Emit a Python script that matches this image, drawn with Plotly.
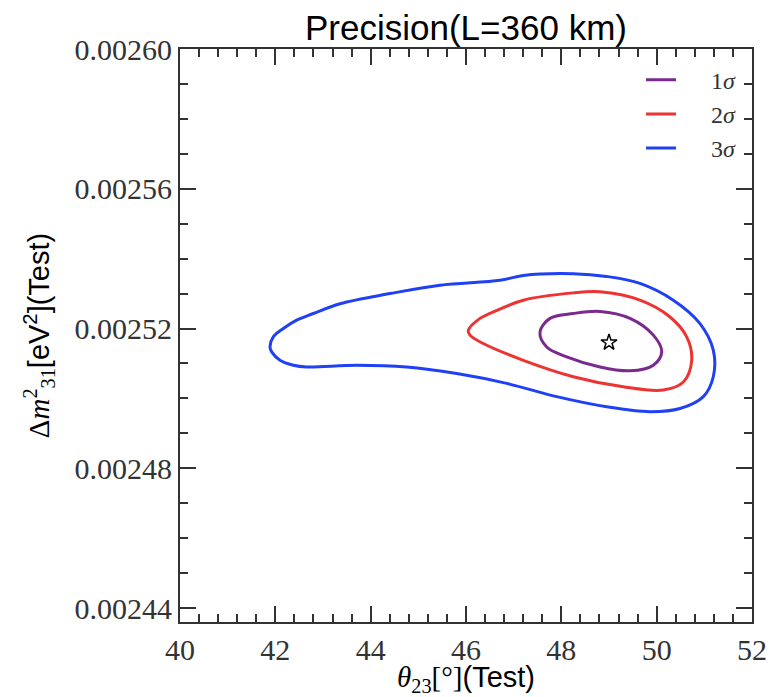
import plotly.graph_objects as go

# ---- data ----
theta_3s = [41.888, 41.957, 42.167, 42.448, 42.797, 43.357, 44.406, 45.455, 46.713, 47.202, 48.251, 48.952,
            49.650, 50.349, 50.909, 51.188, 51.188, 50.979, 50.490, 49.860, 48.952, 47.903,
            46.854, 45.805, 44.756, 43.707, 42.658, 42.378, 42.098, 41.924, 41.888]
dm_3s = [0.0025147, 0.0025176, 0.0025200, 0.0025224, 0.0025243, 0.0025271, 0.0025300, 0.0025324, 0.0025338, 0.0025352,
         0.0025357, 0.0025349, 0.0025329, 0.0025281, 0.0025214, 0.0025138, 0.0025062, 0.0025005,
         0.0024971, 0.0024962, 0.0024976, 0.0025005, 0.0025043, 0.0025071, 0.0025090, 0.0025095,
         0.0025090, 0.0025095, 0.0025109, 0.0025133, 0.0025147]

theta_2s = [46.048, 46.294, 46.503, 47.202, 48.251, 48.811, 49.650, 50.280, 50.630, 50.735,
            50.559, 50.139, 49.300, 48.251, 47.202, 46.363, 46.084, 46.048]
dm_2s = [0.0025195, 0.0025229, 0.0025243, 0.0025281, 0.0025302, 0.0025305, 0.0025281, 0.0025233,
         0.0025176, 0.0025109, 0.0025047, 0.0025024, 0.0025033, 0.0025062, 0.0025109, 0.0025157,
         0.0025181, 0.0025195]

theta_1s = [47.552, 47.762, 48.251, 48.811, 49.441, 49.930, 50.106, 49.930, 49.441, 48.811,
            48.112, 47.693, 47.552]
dm_1s = [0.0025190, 0.0025229, 0.0025243, 0.0025249, 0.0025229, 0.0025181, 0.0025133, 0.0025095,
         0.0025079, 0.0025090, 0.0025119, 0.0025147, 0.0025190]

best_theta = [49.0]
best_dm = [0.002516]

labels = ["1<i>σ</i>", "2<i>σ</i>", "3<i>σ</i>"]
x_ticks = [40, 42, 44, 46, 48, 50, 52]
y_ticks = [0.00244, 0.00248, 0.00252, 0.00256, 0.00260]

colors = ["#7a2a8c", "#ee3333", "#2040f5"]
pad = "\u00a0" * 5

fig = go.Figure()
for i, (tx, dy) in enumerate([(theta_1s, dm_1s), (theta_2s, dm_2s), (theta_3s, dm_3s)]):
    fig.add_trace(go.Scatter(
        x=tx, y=dy, mode="lines", name=pad + labels[i],
        line=dict(color=colors[i], width=3, shape="spline", smoothing=1.0),
        legendgroup=labels[i],
    ))

fig.add_trace(go.Scatter(
    x=best_theta, y=best_dm, mode="markers", showlegend=False,
    marker=dict(symbol="star-open", size=12, color="black", line=dict(width=1.5, color="black")),
))

axis_col = "#333333"
serif = "Liberation Serif"
sans = "Liberation Sans"

fig.update_xaxes(
    range=[40, 52], tickvals=x_ticks, ticktext=[str(v) for v in x_ticks],
    ticks="inside", ticklen=16, tickwidth=2, tickcolor=axis_col,
    showline=True, linewidth=2, linecolor=axis_col, mirror="ticks",
    showgrid=False, zeroline=False, automargin=False,
    minor=dict(dtick=0.4, tick0=40, ticks="inside", ticklen=8, tickwidth=1.5,
               tickcolor=axis_col, showgrid=False),
    tickfont=dict(family=serif, size=30, color="#333333"),
    title=dict(text='<span style="font-family:Liberation Serif"><i>θ</i><sub>23</sub>[°]</span>(Test)',
               font=dict(family=sans, size=29, color="black"), standoff=4),
)
fig.update_yaxes(
    range=[0.002436, 0.00260], tickvals=y_ticks, ticktext=["%.5f" % v for v in y_ticks],
    ticks="inside", ticklen=16, tickwidth=2, tickcolor=axis_col,
    showline=True, linewidth=2, linecolor=axis_col, mirror="ticks",
    showgrid=False, zeroline=False, automargin=False,
    minor=dict(dtick=0.00001, tick0=0.00244, ticks="inside", ticklen=8, tickwidth=1.5,
               tickcolor=axis_col, showgrid=False),
    tickfont=dict(family=serif, size=30, color="#333333"),
    title=dict(text='<span style="font-family:Liberation Serif">Δ<i>m</i><sup>2</sup><sub>31</sub></span>[eV<sup>2</sup>](Test)',
               font=dict(family=sans, size=29, color="black"), standoff=16),
)

fig.update_layout(
    width=772, height=697,
    margin=dict(l=180, r=20, t=49, b=75, autoexpand=False),
    plot_bgcolor="white", paper_bgcolor="white",
    title=dict(text="Precision(L=360 km)", x=0.5, xref="paper", xanchor="center",
               y=1 - 28 / 697, yref="container", yanchor="middle",
               font=dict(family=sans, size=35, color="black")),
    legend=dict(x=0.806, y=0.985, xanchor="left", yanchor="top",
                bgcolor="rgba(0,0,0,0)", borderwidth=0,
                font=dict(family=serif, size=24, color="#333333"),
                tracegroupgap=0),
    showlegend=True,
)

fig.write_html("out.html")
